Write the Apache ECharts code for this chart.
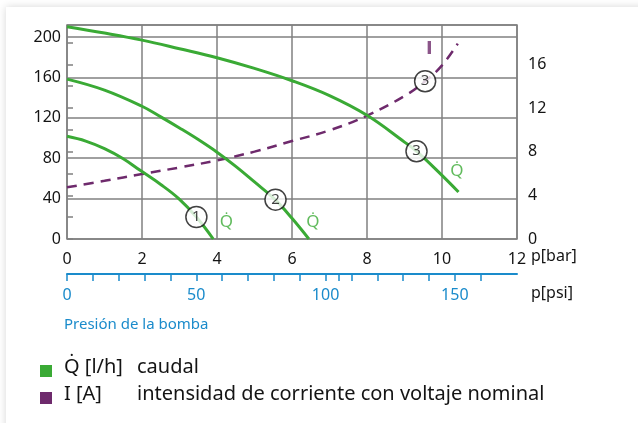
<!DOCTYPE html>
<html><head><meta charset="utf-8">
<script src="https://cdn.jsdelivr.net/npm/echarts@6/dist/echarts.min.js"></script>
<style>
html,body{margin:0;padding:0;background:#fff;overflow:hidden;width:638px;height:423px;}
#card{position:absolute;left:6px;top:7px;width:700px;height:500px;background:#fff;box-shadow:0 0 8px rgba(0,0,0,0.16);}
#chart{position:absolute;left:0;top:0;width:638px;height:423px;}
</style></head><body><div id="card"></div><div id="chart"></div>
<script>
// ---- data ----
const barTickValues = [0, 2, 4, 6, 8, 10, 12];
const psiLabelValues = [0, 50, 100, 150];
const psiTickValues = [0, 10, 20, 30, 40, 50, 60, 70, 80, 90, 100, 105, 110, 120, 130, 140, 150, 160];
const flowLabelValues = [0, 40, 80, 120, 160, 200];
const currentLabelValues = [0, 4, 8, 12, 16];
const currentTickValues = [0, 2, 4, 6, 8, 10, 12, 14, 16, 18];
// [p bar, Q l/h]
const curve1 = [[0, 101.7], [0.5, 97], [1, 89.5], [1.5, 79.5], [1.95, 68], [2.5, 54], [2.98, 40], [3.45, 21.8], [3.9, 0]];
const curve2 = [[0, 158.4], [1, 147.5], [2, 131.5], [2.5, 121], [3, 110], [3.5, 98.5], [4, 86], [4.5, 72], [5, 56.5], [5.55, 39], [6, 20.5], [6.45, 0]];
const curve3 = [[0, 210.3], [1, 204], [2, 197], [3, 188.5], [4, 179.6], [5, 169], [6, 156.8], [7, 142], [8, 122.5], [9, 96], [9.32, 87], [10, 63], [10.44, 46.5]];
// [p bar, I A]
const current = [[0, 4.73], [1, 5.33], [2, 5.95], [3, 6.55], [4, 7.2], [5, 8.0], [6, 8.97], [7, 9.95], [8, 11.3], [9, 13.1], [9.55, 14.45], [10, 15.9], [10.42, 17.9]];
// annotations [p, value, text]
const flowCircles = [[3.45, 21.8, '1'], [5.56, 39, '2'], [9.32, 87, '3']];
const currentCircles = [[9.55, 14.45, '3']];
const flowMarks = [[4.25, 16.8, 'Q\u0307'], [6.56, 16.8, 'Q\u0307'], [10.4, 67.3, 'Q\u0307']];
const currentMarks = [[9.66, 17.4, 'I']];
const barAxisName = 'p[bar]';
const psiAxisName = 'p[psi]';
const pressureTitle = 'Presión de la bomba';
const legendRows = [['Q\u0307 [l/h]', 'caudal'], ['I [A]', 'intensidad de corriente con voltaje nominal']];
const BAR_TO_PSI = 14.5038;

// ---- style ----
const FONT = '"Noto Sans", sans-serif';
const GREEN = '#3aaa35', PURPLE = '#6e2a6c', BLUE = '#1a8bcb', GRID = '#808080', TXT = '#141414';

const chart = echarts.init(document.getElementById('chart'), null, {renderer: 'canvas'});

const circleStyle = {
  type: 'scatter', symbol: 'circle', symbolSize: 21, z: 10,
  itemStyle: {color: '#fff', borderColor: '#111', borderWidth: 1.5},
  label: {show: true, position: 'inside', formatter: p => p.data[2], fontSize: 15, color: '#111', fontFamily: 'Noto Sans'}
};
const markStyle = (color, size, weight, family) => ({
  type: 'scatter', symbolSize: 0, z: 11,
  label: {show: true, position: 'inside', formatter: p => p.data[2], fontSize: size, fontWeight: weight, color: color, fontFamily: family}
});

const legendGraphics = [];
legendRows.forEach((r, i) => {
  const cy = 371 + i * 27;
  legendGraphics.push({type: 'rect', left: 40, top: cy - 6, shape: {width: 12, height: 12}, style: {fill: i === 0 ? GREEN : PURPLE}});
  legendGraphics.push({type: 'text', left: 64, top: cy - 14, style: {text: r[0], font: '20px ' + FONT, fill: TXT}});
  legendGraphics.push({type: 'text', left: 137, top: cy - 14, style: {text: r[1], font: '20px ' + FONT, fill: TXT}});
});

chart.setOption({
  animation: false,
  grid: {left: 67, top: 25, width: 450, height: 214, show: true, borderColor: GRID, borderWidth: 1.5},
  xAxis: [
    {type: 'value', min: 0, max: 12, interval: 2,
     axisLine: {show: false}, axisTick: {show: false},
     splitLine: {show: true, lineStyle: {color: GRID, width: 1.5}},
     axisLabel: {customValues: barTickValues, margin: 12, fontSize: 16, color: TXT, fontFamily: FONT}},
    {type: 'value', position: 'bottom', offset: 35, min: 0, max: 12 * BAR_TO_PSI,
     axisLine: {show: true, onZero: false, lineStyle: {color: BLUE, width: 2}},
     axisTick: {show: true, customValues: psiTickValues, length: 7, lineStyle: {color: BLUE, width: 1.5}},
     splitLine: {show: false},
     axisLabel: {customValues: psiLabelValues, margin: 13, fontSize: 16, color: BLUE, fontFamily: FONT}}
  ],
  yAxis: [
    {type: 'value', min: 0, max: 212, interval: 40,
     axisLine: {show: false}, axisTick: {show: false},
     splitLine: {show: true, lineStyle: {color: GRID, width: 1.5}},
     axisLabel: {customValues: flowLabelValues, margin: 6, fontSize: 16, color: TXT, fontFamily: FONT}},
    {type: 'value', position: 'right', min: 0, max: 19.6, interval: 2,
     axisLine: {show: false},
     axisTick: {show: true, customValues: currentTickValues, length: 6, lineStyle: {color: GRID, width: 1.5}},
     splitLine: {show: false},
     axisLabel: {customValues: currentLabelValues, margin: 11, fontSize: 16, color: TXT, fontFamily: FONT}}
  ],
  series: [
    {type: 'line', data: curve1, smooth: 0.4, symbol: 'none', lineStyle: {color: GREEN, width: 3}, z: 5},
    {type: 'line', data: curve2, smooth: 0.4, symbol: 'none', lineStyle: {color: GREEN, width: 3}, z: 5},
    {type: 'line', data: curve3, smooth: 0.4, symbol: 'none', lineStyle: {color: GREEN, width: 3}, z: 5},
    {type: 'line', data: current, yAxisIndex: 1, smooth: 0.4, symbol: 'none', lineStyle: {color: PURPLE, width: 2.5, type: [10, 7]}, z: 4},
    Object.assign({}, circleStyle, {data: flowCircles}),
    Object.assign({}, circleStyle, {data: currentCircles, yAxisIndex: 1}),
    Object.assign(markStyle(GREEN, 17, 'normal', 'Noto Sans'), {data: flowMarks}),
    Object.assign(markStyle(PURPLE, 18, 'bold', 'DejaVu Sans'), {data: currentMarks, yAxisIndex: 1})
  ],
  graphic: [
    {type: 'text', left: 531, top: 248, style: {text: barAxisName, font: '16px ' + FONT, fill: TXT}},
    {type: 'text', left: 531, top: 285, style: {text: psiAxisName, font: '16px ' + FONT, fill: TXT}},
    {type: 'text', left: 64, top: 317, style: {text: pressureTitle, font: '15px ' + FONT, fill: BLUE}}
  ].concat(legendGraphics)
});
</script></body></html>
